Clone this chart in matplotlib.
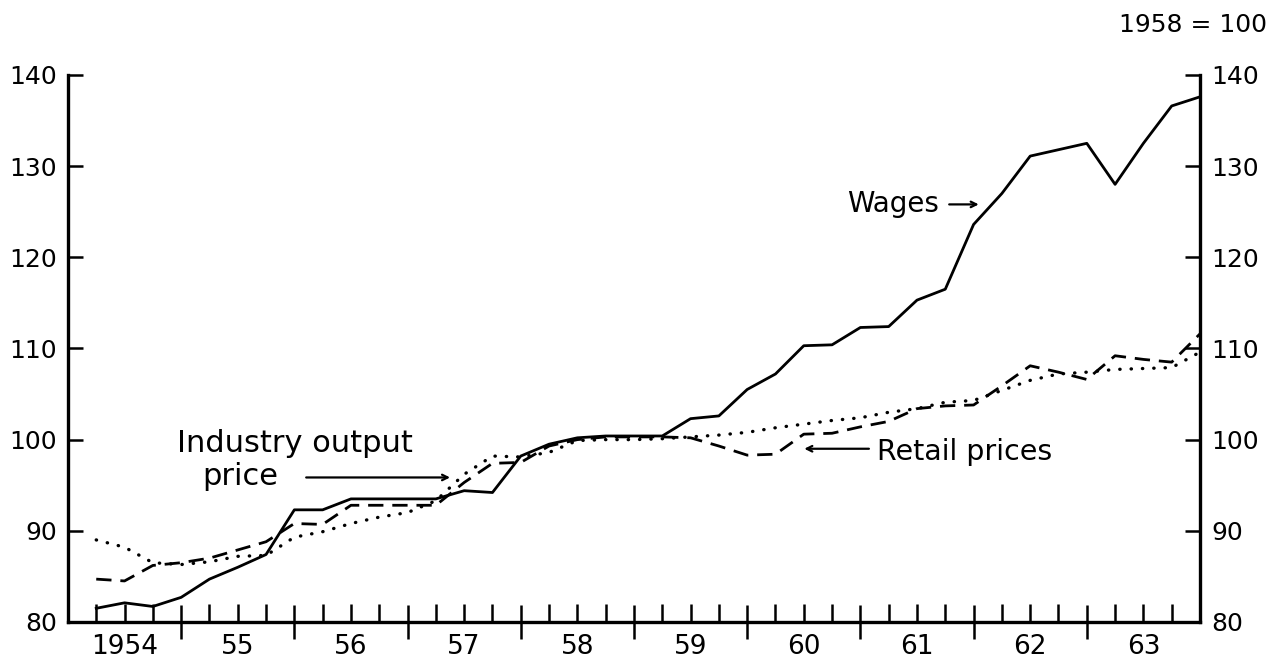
import numpy as np
import matplotlib.pyplot as plt

# quarterly index numbers, 1958 = 100 (first point = 1954 Q1 end ... last = 1963 Q4 end)
quarters = np.arange(1, 41)
wages = [81.5, 82.1, 81.7, 82.7, 84.7, 86.0, 87.4, 92.3, 92.3, 93.5,
         93.5, 93.5, 93.5, 94.4, 94.2, 98.2, 99.5, 100.2, 100.4, 100.4,
         100.4, 102.3, 102.6, 105.5, 107.2, 110.3, 110.4, 112.3, 112.4, 115.3,
         116.5, 123.6, 127.0, 131.1, 131.8, 132.5, 128.0, 132.5, 136.6, 137.6]
retail = [84.7, 84.5, 86.2, 86.5, 87.0, 87.9, 88.8, 90.8, 90.7, 92.8,
          92.8, 92.8, 92.8, 95.3, 97.4, 97.5, 99.3, 100.0, 100.3, 100.3,
          100.3, 100.2, 99.3, 98.3, 98.4, 100.6, 100.7, 101.4, 102.0, 103.4,
          103.7, 103.8, 105.9, 108.1, 107.4, 106.6, 109.2, 108.8, 108.5, 111.6]
industry = [89.0, 88.2, 86.5, 86.3, 86.6, 87.2, 87.3, 89.3, 89.9, 90.8,
            91.5, 92.0, 93.3, 96.2, 98.2, 98.1, 98.6, 99.9, 100.0, 100.0,
            100.1, 100.3, 100.5, 100.8, 101.3, 101.7, 102.1, 102.4, 103.0, 103.4,
            104.1, 104.3, 105.4, 106.5, 107.2, 107.4, 107.7, 107.8, 107.9, 109.6]
year_labels = ['1954', '55', '56', '57', '58', '59', '60', '61', '62', '63']
y_ticks = [80, 90, 100, 110, 120, 130, 140]

plt.rcParams['font.family'] = ['DejaVu Sans']
x = 1954 + quarters / 4.0

fig = plt.figure(figsize=(12.77, 6.65), dpi=100)
ax = fig.add_axes([0.0532, 0.0647, 0.8865, 0.8226])

ax.plot(x, wages, color='black', lw=2.0)
ax.plot(x, retail, color='black', lw=2.0, linestyle=(0, (5.5, 3.2)))
ax.plot(x, industry, color='black', lw=2.4, linestyle=(0, (0.1, 3.3)),
        dash_capstyle='round')

ax.set_xlim(1954, 1964)
ax.set_ylim(80, 140)

# spines
ax.spines['top'].set_visible(False)
for s in ['left', 'right', 'bottom']:
    ax.spines[s].set_linewidth(2.4)

# y axis on both sides
ax.set_yticks(y_ticks)
ax.tick_params(axis='y', which='major', left=True, right=True,
               labelleft=True, labelright=True, direction='in',
               length=11, width=1.8, pad=8, labelsize=18)

# x axis: year boundaries cross the axis, quarters inside
ax.set_xticks(np.arange(1955, 1964))
ax.set_xticks(np.arange(1954.25, 1964, 0.25), minor=True)
ax.tick_params(axis='x', which='major', direction='inout', length=24,
               width=1.8, labelbottom=False)
ax.tick_params(axis='x', which='minor', direction='in', length=13,
               width=1.8, labelbottom=False)
for i, lab in enumerate(year_labels):
    ax.text(1954.5 + i, -0.045, lab, transform=ax.get_xaxis_transform(),
            ha='center', va='center', fontsize=19)

# annotations
ax.text(1960.88, 125.8, 'Wages', fontsize=20, ha='left', va='center')
ax.annotate('', xy=(1962.07, 125.8), xytext=(1961.76, 125.8),
            arrowprops=dict(arrowstyle='->', lw=1.6, color='black'))

ax.text(1954.96, 99.6, 'Industry output', fontsize=22, ha='left', va='center')
ax.text(1955.19, 96.0, 'price', fontsize=22, ha='left', va='center')
ax.annotate('', xy=(1957.4, 95.85), xytext=(1956.08, 95.85),
            arrowprops=dict(arrowstyle='->', lw=1.6, color='black'))

ax.text(1961.15, 98.6, 'Retail prices', fontsize=20.5, ha='left', va='center')
ax.annotate('', xy=(1960.48, 99.0), xytext=(1961.1, 99.0),
            arrowprops=dict(arrowstyle='->', lw=1.6, color='black'))

fig.text(0.992, 0.962, '1958 = 100', fontsize=18, ha='right', va='center')

fig.savefig('out.png', dpi=100)
